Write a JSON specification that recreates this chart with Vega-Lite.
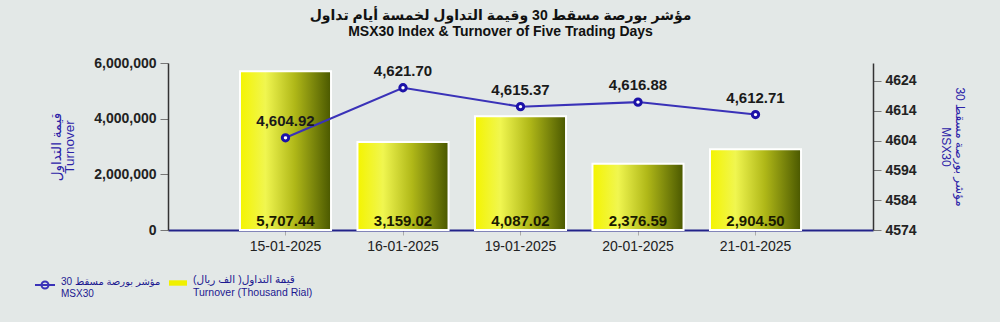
{
  "$schema": "https://vega.github.io/schema/vega-lite/v6.json",
  "width": 705,
  "height": 167,
  "autosize": {"type": "none"},
  "padding": {"left": 168, "top": 63, "right": 127, "bottom": 92},
  "background": "#e3e8e7",
  "config": {"font": "Liberation Sans, DejaVu Sans, sans-serif", "view": {"stroke": null}},
  "title": {
    "text": ["مؤشر بورصة مسقط 30 وقيمة التداول لخمسة أيام تداول", "MSX30 Index & Turnover of Five Trading Days"],
    "fontSize": 14, "fontWeight": "bold", "color": "#111", "lineHeight": 16,
    "anchor": "middle", "dx": -20, "offset": 17, "frame": "group"
  },
  "data": {"values": [
    {"date": "15-01-2025", "turnover": 5707.44, "msx": 4604.92},
    {"date": "16-01-2025", "turnover": 3159.02, "msx": 4621.70},
    {"date": "19-01-2025", "turnover": 4087.02, "msx": 4615.37},
    {"date": "20-01-2025", "turnover": 2376.59, "msx": 4616.88},
    {"date": "21-01-2025", "turnover": 2904.50, "msx": 4612.71}
  ]},
  "encoding": {
    "x": {
      "field": "date", "type": "ordinal", "sort": null,
      "scale": {"paddingInner": 0.225, "paddingOuter": 0.6125},
      "axis": {"title": null, "labelAngle": 0, "labelFontSize": 14, "labelColor": "#222", "labelPadding": 4,
               "domainColor": "#23238a", "domainWidth": 2, "tickColor": "#aaa", "tickSize": 5}
    }
  },
  "layer": [
    {
      "mark": {"type": "bar", "stroke": "white", "strokeWidth": 2},
      "encoding": {
        "y": {"field": "turnover", "type": "quantitative",
              "scale": {"domain": [0, 6000], "nice": false},
              "axis": {"values": [0, 2000, 4000, 6000], "labelExpr": "format(datum.value*1000, ',')",
                       "labelFontSize": 14, "labelFontWeight": "bold", "labelColor": "#222", "labelPadding": 4,
                       "tickSize": 8, "tickColor": "#777", "domainColor": "#333", "domainWidth": 1.5, "grid": false,
                       "title": ["قيمة التداول", "Turnover"], "titleColor": "#2c23a8", "titleFontSize": 13.5,
                       "titleFontWeight": "normal", "titleLineHeight": 13, "titlePadding": 17}},
        "fill": {"datum": "Turnover",
                 "scale": {"range": ["#f0f000"]},
                 "condition": {"test": "datum.turnover > 0",
                   "value": {"gradient": "linear", "x1": 0, "x2": 1, "y1": 0, "y2": 0,
                   "stops": [{"offset": 0, "color": "#f4f400"}, {"offset": 0.28, "color": "#f0f650"},
                             {"offset": 0.6, "color": "#b0b818"}, {"offset": 1, "color": "#4a5800"}]}},
                 "legend": {"orient": "none", "legendX": 1, "legendY": 211, "title": null,
                            "symbolType": "M-1,-0.3H1V0.3H-1Z", "symbolSize": 324, "symbolStrokeWidth": 0,
                            "labelBaseline": "alphabetic", "labelOffset": 6,
                            "labelExpr": "['قيمة التداول( الف ريال)', 'Turnover (Thousand Rial)']",
                            "labelFontSize": 10.5, "labelFontWeight": "normal", "labelColor": "#1c1890", "labelLimit": 300}}
      }
    },
    {
      "mark": {"type": "text", "baseline": "bottom", "dy": -1, "fontSize": 15, "fontWeight": "bold", "color": "#1a1a00"},
      "encoding": {
        "y": {"datum": 0, "type": "quantitative", "scale": {"domain": [0, 6000], "nice": false}, "axis": null},
        "text": {"field": "turnover", "type": "quantitative", "format": ",.2f"}
      }
    },
    {
      "mark": {"type": "line", "strokeWidth": 2},
      "encoding": {
        "y": {"field": "msx", "type": "quantitative",
              "scale": {"domain": [4574, 4630], "nice": false, "zero": false},
              "axis": {"orient": "right", "values": [4574, 4584, 4594, 4604, 4614, 4624], "format": "d",
                       "labelFontSize": 14, "labelFontWeight": "bold", "labelColor": "#222", "labelPadding": 4,
                       "tickSize": 8, "tickColor": "#777", "domainColor": "#333", "domainWidth": 1.5, "grid": false,
                       "title": ["مؤشر بورصة مسقط 30", "MSX30"], "titleColor": "#2c23a8", "titleFontSize": 12,
                       "titleFontWeight": "normal", "titleLineHeight": 14, "titleAngle": 90, "titlePadding": 22}},
        "color": {"datum": "MSX30", "scale": {"range": ["#3a32b8"]},
                  "legend": {"orient": "none", "legendX": -134, "legendY": 211, "title": null,
                             "symbolType": "M-1,0H1M-0.35,0A0.35,0.35 0 1 1 0.35,0A0.35,0.35 0 1 1 -0.35,0Z",
                             "symbolSize": 400, "symbolStrokeWidth": 2,
                             "labelBaseline": "alphabetic", "labelOffset": 5,
                             "labelExpr": "['مؤشر بورصة مسقط 30', 'MSX30']",
                             "labelFontSize": 10, "labelFontWeight": "normal", "labelColor": "#1c1890", "labelLimit": 300}}
      }
    },
    {
      "mark": {"type": "point", "filled": true, "fill": "white", "stroke": "#1c12a8", "strokeWidth": 3, "size": 40, "opacity": 1},
      "encoding": {
        "y": {"field": "msx", "type": "quantitative", "scale": {"domain": [4574, 4630], "nice": false, "zero": false}, "axis": null}
      }
    },
    {
      "mark": {"type": "text", "dy": -17, "fontSize": 15, "fontWeight": "bold", "color": "#1a1a1a"},
      "encoding": {
        "y": {"field": "msx", "type": "quantitative", "scale": {"domain": [4574, 4630], "nice": false, "zero": false}, "axis": null},
        "text": {"field": "msx", "type": "quantitative", "format": ",.2f"}
      }
    }
  ],
  "resolve": {"scale": {"y": "independent"}}
}
